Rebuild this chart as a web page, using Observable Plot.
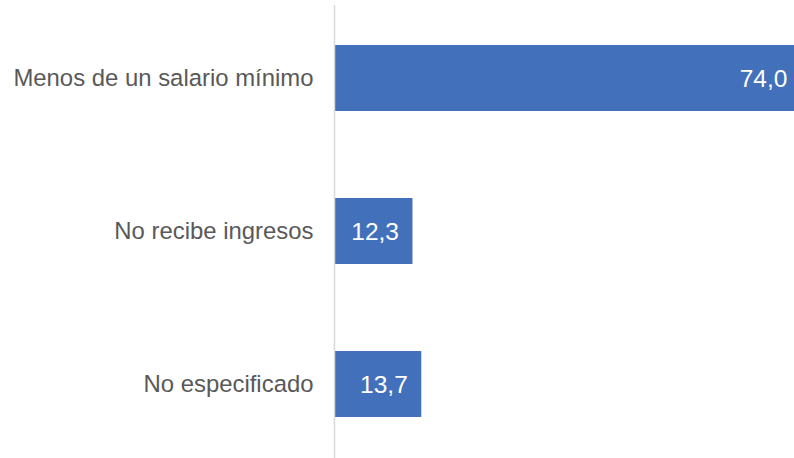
<!DOCTYPE html>
<html>
<head>
<meta charset="utf-8">
<script src="https://cdn.jsdelivr.net/npm/d3@7"></script>
<script src="https://cdn.jsdelivr.net/npm/@observablehq/plot@0.6"></script>
<style>
  html, body { margin: 0; padding: 0; background: #fff; overflow: hidden; }
</style>
</head>
<body>
<div id="chart"></div>
<script>
const categories = ["Menos de un salario mínimo", "No recibe ingresos", "No especificado"];
const values = [74.0, 12.3, 13.7];

const data = categories.map((c, i) => ({category: c, value: values[i], label: values[i].toFixed(1).replace(".", ",")}));

const chart = Plot.plot({
  width: 794,
  height: 458,
  marginLeft: 335,
  marginRight: 0,
  marginTop: 0,
  marginBottom: 0,
  style: {fontFamily: "'Liberation Sans', Arial, sans-serif", fontSize: "24px", background: "#fff"},
  x: {domain: [0, 72.9], axis: null},
  y: {domain: categories, range: [0, 462.7], paddingInner: 0.569, paddingOuter: 0.294, label: null},
  marks: [
    Plot.barX(data, {x: "value", y: "category", fill: "#4270ba", clip: true}),
    Plot.ruleX([0], {stroke: "#d9d9d9", strokeWidth: 1.5, insetTop: 5, dx: -1}),
    Plot.axisY({tickSize: 0, tickPadding: 22, fill: "#595959", fontSize: 23.9, label: null}),
    Plot.text(data, {x: "value", y: "category", text: "label", textAnchor: "end", dx: -14, dy: 1, fill: "#fff", fontSize: 24.5})
  ]
});
document.getElementById("chart").appendChild(chart);
</script>
</body>
</html>
